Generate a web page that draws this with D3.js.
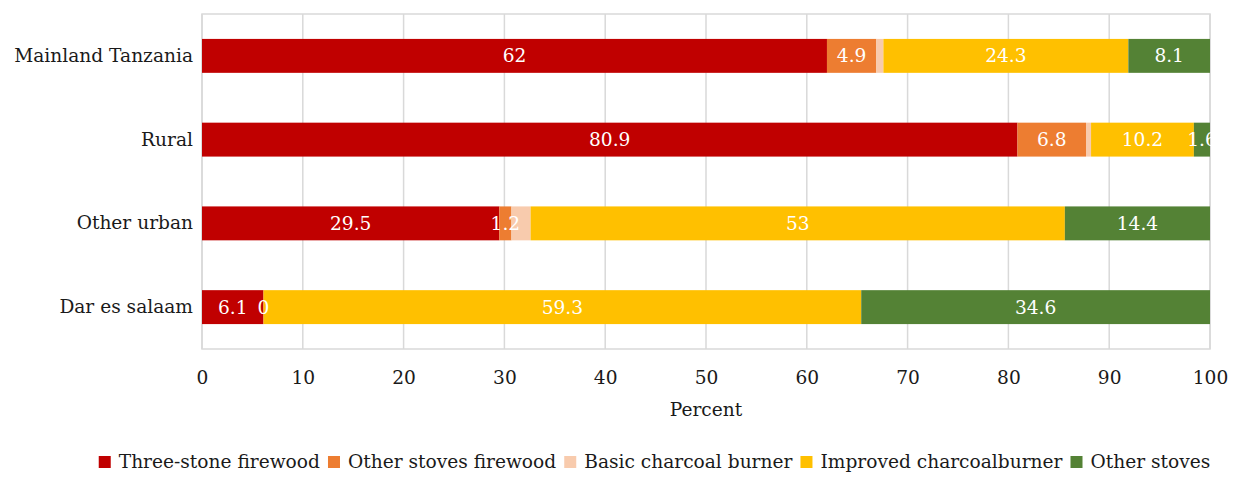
<!DOCTYPE html>
<html>
<head>
<meta charset="utf-8">
<script src="https://cdn.jsdelivr.net/npm/d3@7"></script>
<style>
  body { margin: 0; background: #fff; }
  svg text { font-family: "DejaVu Serif", serif; }
</style>
</head>
<body>
<svg id="chart" width="1237" height="477"></svg>
<script>
// Cooking stove shares by area (percent)
const categories = ["Mainland Tanzania", "Rural", "Other urban", "Dar es salaam"];
const seriesNames = ["Three-stone firewood", "Other stoves firewood", "Basic charcoal burner", "Improved charcoalburner", "Other stoves"];
const threeStone = [62, 80.9, 29.5, 6.1];
const otherFirewood = [4.9, 6.8, 1.2, 0];
const basicCharcoal = [0.7, 0.5, 1.9, 0];
const improvedCharcoal = [24.3, 10.2, 53, 59.3];
const otherStoves = [8.1, 1.6, 14.4, 34.6];
const xTicks = [0, 10, 20, 30, 40, 50, 60, 70, 80, 90, 100];
const colors = ["#C00000", "#ED7D31", "#F8CBAD", "#FFC000", "#548235"];
const showLabel = [true, true, false, true, true];

const FONT = '"DejaVu Serif", serif';
const FS = 18.6;

const seriesValues = [threeStone, otherFirewood, basicCharcoal, improvedCharcoal, otherStoves];
const rows = categories.map((c, i) => {
  const r = { category: c };
  seriesNames.forEach((s, k) => r[s] = seriesValues[k][i]);
  return r;
});
const stacked = d3.stack().keys(seriesNames)(rows);

const svg = d3.select("#chart");
const margin = { left: 202, right: 27, top: 14, bottom: 128 };
const W = 1237, H = 477;
const x = d3.scaleLinear().domain([0, 100]).range([margin.left, W - margin.right]);
const y = d3.scaleBand().domain(categories).range([margin.top, H - margin.bottom])
  .paddingInner(0.595).paddingOuter(0.2975);

// gridlines
svg.append("g").selectAll("line").data(xTicks).join("line")
  .attr("x1", d => x(d)).attr("x2", d => x(d))
  .attr("y1", margin.top).attr("y2", H - margin.bottom)
  .attr("stroke", "#d9d9d9").attr("stroke-width", 1.5);

// frame
svg.append("rect")
  .attr("x", x(0)).attr("y", margin.top)
  .attr("width", x(100) - x(0)).attr("height", H - margin.bottom - margin.top)
  .attr("fill", "none").attr("stroke", "#d9d9d9").attr("stroke-width", 1.5);

// bars
const layers = svg.append("g").selectAll("g").data(stacked).join("g")
  .attr("fill", (d, i) => colors[i]);
layers.selectAll("rect").data(d => d).join("rect")
  .attr("x", d => x(d[0]))
  .attr("y", d => y(d.data.category))
  .attr("width", d => x(d[1]) - x(d[0]))
  .attr("height", y.bandwidth());

// value labels
stacked.forEach((layer, k) => {
  if (!showLabel[k]) return;
  svg.append("g").selectAll("text").data(layer).join("text")
    .attr("x", d => x((d[0] + d[1]) / 2))
    .attr("y", d => y(d.data.category) + y.bandwidth() / 2)
    .attr("dy", "0.35em")
    .attr("text-anchor", "middle")
    .attr("fill", "#fff")
    .attr("font-size", FS)
    .text(d => d.data[layer.key]);
});

// category axis
const yAxis = svg.append("g").attr("transform", `translate(${x(0)},0)`)
  .call(d3.axisLeft(y).tickSize(0).tickPadding(9));
yAxis.select(".domain").remove();
yAxis.selectAll("text").attr("font-size", FS).attr("fill", "#1a1a1a").style("font-family", FONT);

// value axis
const xAxis = svg.append("g").attr("transform", `translate(0,${H - margin.bottom})`)
  .call(d3.axisBottom(x).tickValues(xTicks).tickSize(0).tickPadding(22));
xAxis.select(".domain").remove();
xAxis.selectAll("text").attr("font-size", FS).attr("fill", "#1a1a1a").style("font-family", FONT);

svg.append("text")
  .attr("x", x(50)).attr("y", 416)
  .attr("text-anchor", "middle").attr("font-size", FS).attr("fill", "#1a1a1a")
  .text("Percent");

// legend
const legend = svg.append("g");
let lx = 0;
const items = legend.selectAll("g").data(seriesNames).join("g");
items.append("rect").attr("width", 12).attr("height", 12).attr("y", -12)
  .attr("fill", (d, i) => colors[i]);
items.append("text").attr("x", 20).attr("y", 0).attr("font-size", FS).attr("fill", "#1a1a1a")
  .text(d => d);
items.each(function () {
  const w = this.getBBox().width;
  d3.select(this).attr("transform", `translate(${lx},468)`);
  lx += w + 8;
});
const total = lx - 8;
legend.attr("transform", `translate(${(100 + 1209) / 2 - total / 2},0)`);
</script>
</body>
</html>
